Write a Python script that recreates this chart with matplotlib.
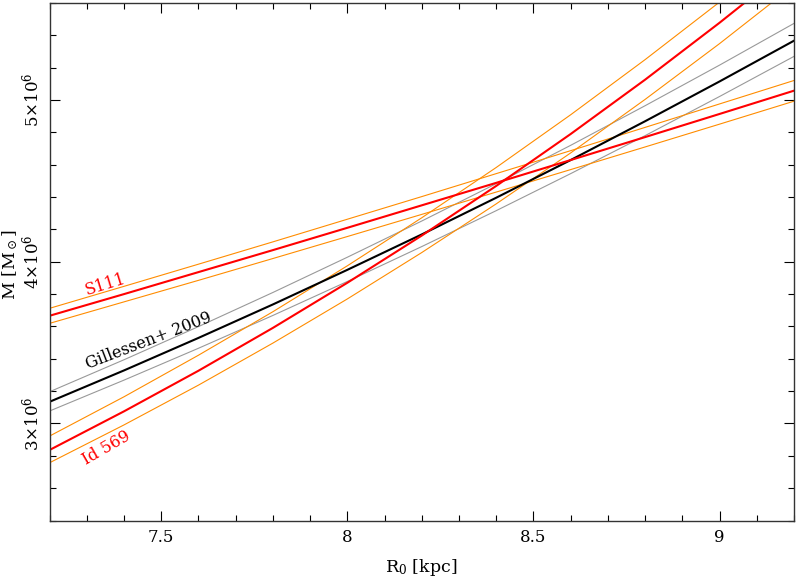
import numpy as np
import matplotlib
matplotlib.use("Agg")
import matplotlib.pyplot as plt
from matplotlib.ticker import FixedLocator, MultipleLocator

# ---- data (mass in units of 1e6 Msun) ----
R0 = [7.2, 7.4, 7.6, 7.8, 8.0, 8.2, 8.4, 8.6, 8.8, 9.0, 9.2]

gillessen_mid = [3.134, 3.328, 3.529, 3.736, 3.950, 4.169, 4.396, 4.629, 4.869, 5.115, 5.367]
gillessen_hi  = [3.196, 3.394, 3.599, 3.810, 4.028, 4.252, 4.483, 4.720, 4.965, 5.216, 5.474]
gillessen_lo  = [3.077, 3.268, 3.465, 3.668, 3.878, 4.094, 4.316, 4.545, 4.780, 5.022, 5.270]

s111_mid = [3.666, 3.800, 3.936, 4.072, 4.210, 4.349, 4.488, 4.629, 4.771, 4.914, 5.058]
s111_hi  = [3.712, 3.848, 3.985, 4.123, 4.263, 4.403, 4.545, 4.687, 4.831, 4.976, 5.121]
s111_lo  = [3.619, 3.752, 3.885, 4.020, 4.156, 4.293, 4.431, 4.570, 4.710, 4.851, 4.993]

id569_mid = [2.836, 3.075, 3.326, 3.591, 3.870, 4.162, 4.469, 4.790, 5.126, 5.478, 5.845]
id569_hi  = [2.922, 3.165, 3.422, 3.691, 3.975, 4.272, 4.583, 4.909, 5.250, 5.606, 5.978]
id569_lo  = [2.757, 2.991, 3.237, 3.497, 3.770, 4.057, 4.358, 4.673, 5.004, 5.349, 5.710]

y_ticks = [3, 4, 5]
y_tick_labels = [r"$3{\times}10^6$", r"$4{\times}10^6$", r"$5{\times}10^6$"]
x_ticks = [7.5, 8, 8.5, 9]
x_tick_labels = ["7.5", "8", "8.5", "9"]

plt.rcParams["font.family"] = "DejaVu Serif"
plt.rcParams["mathtext.fontset"] = "dejavuserif"

ORANGE = "#ff8c00"
GRAY = "#999999"

fig = plt.figure(figsize=(7.96, 5.81), dpi=100)
ax = fig.add_axes([0.0622, 0.1041, 0.9353, 0.8907])

R = np.array(R0)
# thin error lines first
for ys in (gillessen_hi, gillessen_lo):
    ax.plot(R, ys, color=GRAY, lw=0.8)
for ys in (s111_hi, s111_lo, id569_hi, id569_lo):
    ax.plot(R, ys, color=ORANGE, lw=0.8)
ax.plot(R, gillessen_mid, color="black", lw=1.5)
ax.plot(R, s111_mid, color="red", lw=1.5)
ax.plot(R, id569_mid, color="red", lw=1.5)

ax.set_xlim(7.2, 9.2)
ax.set_ylim(2.4, 5.6)

# labels on the curves
ax.text(7.349, 3.856, "S111", color="red", fontsize=11.5, rotation=17,
        ha="center", va="center", rotation_mode="anchor")
ax.text(7.466, 3.510, "Gillessen+ 2009", color="black", fontsize=11.5, rotation=21,
        ha="center", va="center", rotation_mode="anchor")
ax.text(7.354, 2.848, "Id 569", color="red", fontsize=11.5, rotation=30,
        ha="center", va="center", rotation_mode="anchor")

# ticks
ax.xaxis.set_major_locator(FixedLocator(x_ticks))
ax.set_xticklabels(x_tick_labels)
ax.xaxis.set_minor_locator(MultipleLocator(0.1))
ax.yaxis.set_major_locator(FixedLocator(y_ticks))
ax.set_yticklabels(y_tick_labels, rotation=90, va="center")
ax.yaxis.set_minor_locator(MultipleLocator(0.2))
ax.tick_params(which="both", direction="in", top=True, right=True, labelsize=12)
ax.tick_params(which="major", length=7.5, width=0.8)
ax.tick_params(which="minor", length=4, width=0.8)
ax.tick_params(axis="x", pad=6)
ax.tick_params(axis="y", pad=5)
for sp in ax.spines.values():
    sp.set_linewidth(1.0)
    sp.set_color("#333333")

fig.text(0.529, 1 - 567 / 581, r"R$_0$ [kpc]", ha="center", va="center", fontsize=12.5)
fig.text(10 / 796, 1 - 265 / 581, r"M [M$_\odot$]", ha="center", va="center",
         rotation=90, fontsize=12.5)

fig.savefig("out.png", dpi=100)
